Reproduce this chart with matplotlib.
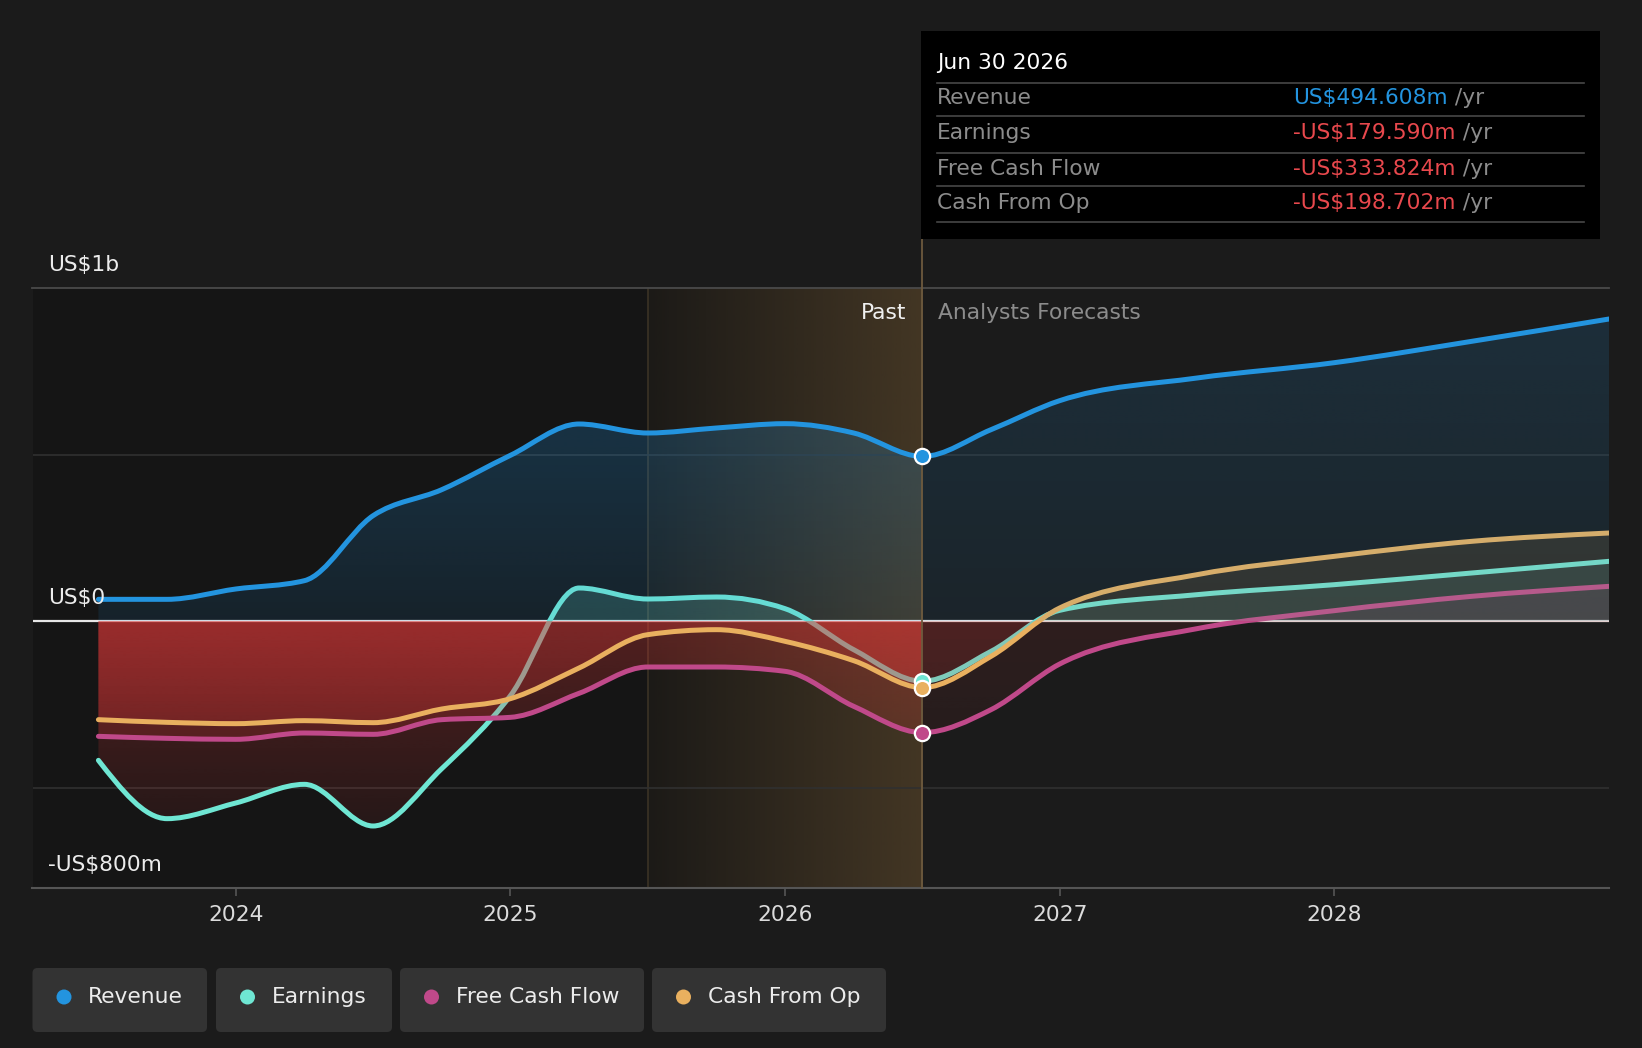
import numpy as np
import matplotlib
matplotlib.use("Agg")
import matplotlib.pyplot as plt
from matplotlib.path import Path
from matplotlib.patches import PathPatch, Rectangle, FancyBboxPatch, Circle
from matplotlib.lines import Line2D
from matplotlib.text import Annotation
from matplotlib.colors import to_rgb
from matplotlib.transforms import IdentityTransform

# --- data (US$ m, dates as decimal years) ---
dates = [2023.5, 2023.75, 2024.0, 2024.25, 2024.5, 2024.75, 2025.0, 2025.25,
         2025.5, 2025.75, 2026.0, 2026.25, 2026.5,
         2026.75, 2027.0, 2027.5, 2028.0, 2028.5, 2029.0]

revenue = [66, 66, 97, 122, 317, 395, 498, 592,
           565, 580, 593, 565, 494.608,
           575, 662, 730, 776, 840, 907]
earnings = [-417, -592, -545, -489, -614, -442, -223, 100,
            67, 73, 38, -85, -179.590,
            -90, 33, 80, 110, 145, 180]
free_cash_flow = [-345, -351, -354, -335, -339, -295, -288, -216,
                  -137, -137, -150, -255, -333.824,
                  -265, -128, -22, 32, 75, 105]
cash_from_op = [-295, -303, -307, -298, -304, -263, -232, -140,
                -40, -25, -60, -118, -198.702,
                -105, 40, 140, 195, 240, 265]

series_names = ["Revenue", "Earnings", "Free Cash Flow", "Cash From Op"]
series_values = [revenue, earnings, free_cash_flow, cash_from_op]
series_colors = ["#2394df", "#6fe6d3", "#c0498a", "#e9b05f"]

tooltip_date = "Jun 30 2026"
tooltip_values = [494.608, -179.590, -333.824, -198.702]

y_marks = [1000, 0, -800]
y_mark_labels = ["US$1b", "US$0", "-US$800m"]
grid_levels = [500, -500]
year_ticks = [2024, 2025, 2026, 2027, 2028]
year_labels = ["2024", "2025", "2026", "2027", "2028"]

past_end = 2026.5
recent_start = 2025.5

BG = "#1b1b1b"
PAST_BG = "#151515"
NEG_RED = "#dc3838"
FS = 15.7

W, H = 1642, 1048
fig = plt.figure(figsize=(W / 100, H / 100), dpi=100, facecolor=BG)
ax = fig.add_axes([32.5 / W, 1 - 888 / H, (1609 - 32.5) / W, 600 / H])
ax.set_facecolor(BG)
ax.set_xlim(2023.26, 2029.0)
ax.set_ylim(-800, 1000)


def smooth_path(x, y):
    # monotone cubic (like d3 curveMonotoneX) as bezier segments
    x = np.asarray(x, float)
    y = np.asarray(y, float)
    h = np.diff(x)
    d = np.diff(y) / h
    n = len(x)
    m = np.zeros(n)
    for i in range(1, n - 1):
        if d[i - 1] * d[i] > 0:
            p = (d[i - 1] * h[i] + d[i] * h[i - 1]) / (h[i - 1] + h[i])
            m[i] = 2 * np.sign(d[i]) * min(abs(d[i - 1]), abs(d[i]), 0.5 * abs(p))
    m[0] = (3 * d[0] - m[1]) / 2
    m[-1] = (3 * d[-1] - m[-2]) / 2
    verts = [(x[0], y[0])]
    codes = [Path.MOVETO]
    for i in range(n - 1):
        verts += [(x[i] + h[i] / 3, y[i] + m[i] * h[i] / 3),
                  (x[i + 1] - h[i] / 3, y[i + 1] - m[i + 1] * h[i] / 3),
                  (x[i + 1], y[i + 1])]
        codes += [Path.CURVE4] * 3
    return verts, codes


def grad(color, a_lo, a_hi, n=300, horizontal=False):
    arr = np.zeros((n, 4))
    arr[:, :3] = to_rgb(color)
    arr[:, 3] = np.linspace(a_lo, a_hi, n)
    return arr.reshape(1, n, 4) if horizontal else arr.reshape(n, 1, 4)


# background regions
ax.axvspan(2023.26, past_end, color=PAST_BG, lw=0, zorder=0)
ax.imshow(grad("#6e5532", 0.08, 0.52, horizontal=True), extent=[recent_start, past_end, -800, 1000],
          aspect="auto", origin="lower", interpolation="bilinear", zorder=0.5)
ax.axvline(recent_start, color="#3b3325", lw=1.2, zorder=0.6)

for g in grid_levels:
    ax.axhline(g, color="#303030", lw=1.2, zorder=1)
ax.axhline(0, color="#e6e6e6", lw=1.6, zorder=2)

# series: earnings, fcf, cfo, then revenue on top
draw_order = [1, 2, 3, 0]
for k, idx in enumerate(draw_order):
    vals = series_values[idx]
    col = series_colors[idx]
    z = 3 + k
    verts, codes = smooth_path(dates, vals)
    fverts = verts + [(dates[-1], 0), (dates[0], 0), (dates[0], vals[0])]
    fcodes = codes + [Path.LINETO, Path.LINETO, Path.CLOSEPOLY]
    clip = PathPatch(Path(fverts, fcodes), transform=ax.transData, facecolor="none", edgecolor="none")

    if idx == 0:
        pos_past, pos_fut = (0.11, 0.32), (0.08, 0.17)
    else:
        pos_past, pos_fut = (0.2, 0.2), (0.12, 0.12)
    segs = [(dates[0], past_end, (0.02, 0.31), pos_past),
            (past_end, dates[-1], (0.01, 0.10), pos_fut)]
    for xa, xb, neg_a, pos_a in segs:
        im = ax.imshow(grad(NEG_RED, *neg_a), extent=[xa, xb, -800, 0], aspect="auto",
                       origin="lower", interpolation="bilinear", zorder=z)
        im.set_clip_path(clip)
        im = ax.imshow(grad(col, *pos_a), extent=[xa, xb, 0, 1000], aspect="auto",
                       origin="lower", interpolation="bilinear", zorder=z)
        im.set_clip_path(clip)

    ax.add_patch(PathPatch(Path(verts, codes), facecolor="none", edgecolor=col, lw=3.6,
                           capstyle="round", joinstyle="round", zorder=z + 0.5))

ax.set_xlim(2023.26, 2029.0)
ax.set_ylim(-800, 1000)

# past / forecast divider
ax.axvline(past_end, ymin=0, ymax=(888 - 239) / 600, color="#6d5a3e", lw=1.3, clip_on=False, zorder=9)
for idx in [0, 1, 3, 2]:
    ax.plot([past_end], [series_values[idx][dates.index(past_end)]], "o", ms=11,
            mfc=series_colors[idx], mec="white", mew=1.6, zorder=10)

ax.annotate("Past", xy=(past_end, 1000), xytext=(-11.5, -18), textcoords="offset points",
            ha="right", va="center", color="#f0f0f0", fontsize=FS, zorder=11)
ax.annotate("Analysts Forecasts", xy=(past_end, 1000), xytext=(11.5, -18), textcoords="offset points",
            ha="left", va="center", color="#8c8c8c", fontsize=FS, zorder=11)

for v, lab in zip(y_marks, y_mark_labels):
    ax.annotate(lab, xy=(0, v), xycoords=("axes fraction", "data"), xytext=(11, 16.5),
                textcoords="offset points", ha="left", va="center", color="#ececec",
                fontsize=FS, zorder=12)

# axes styling
for s in ["left", "right"]:
    ax.spines[s].set_visible(False)
ax.spines["top"].set_color("#4a4a4a")
ax.spines["top"].set_linewidth(1.3)
ax.spines["bottom"].set_color("#555555")
ax.spines["bottom"].set_linewidth(1.5)
ax.spines["top"].set_zorder(1)
ax.set_yticks([])
ax.set_xticks(year_ticks)
ax.set_xticklabels(year_labels)
ax.tick_params(axis="x", colors="#555555", length=6, width=1.2, pad=6, labelsize=FS,
               labelcolor="#dcdcdc")

# tooltip
fig.add_artist(Rectangle((921 / W, 1 - 239 / H), (1600 - 921) / W, 208 / H,
                         transform=fig.transFigure, facecolor="black", edgecolor="none", zorder=5))
fig.text(937 / W, 1 - 63 / H, tooltip_date, color="white", fontsize=FS, va="center", zorder=6)
for yl in [83, 116, 153, 186, 222]:
    fig.add_artist(Line2D([937 / W, 1584 / W], [1 - yl / H] * 2, transform=fig.transFigure,
                          color="#474747", lw=1.2, zorder=6))
row_y = [98, 133, 169, 203]
for name, val, col, yr in zip(series_names, tooltip_values, series_colors, row_y):
    fig.text(937 / W, 1 - yr / H, name, color="#8c8c8c", fontsize=FS, va="center", zorder=6)
    txt = ("-" if val < 0 else "") + f"US${abs(val):.3f}m"
    vcol = col if val >= 0 else "#e8484d"
    t = fig.text(1293 / W, 1 - yr / H, txt, color=vcol, fontsize=FS, va="center", zorder=6)
    fig.add_artist(Annotation(" /yr", xy=(1, 0), xycoords=t, va="bottom", ha="left",
                              color="#8c8c8c", fontsize=FS, zorder=6))

# legend
boxes = [(32.5, 207), (216, 392), (400, 644), (652, 886)]
for (x0, x1), name, col in zip(boxes, series_names, series_colors):
    fig.add_artist(FancyBboxPatch((x0, H - 1032), x1 - x0, 64, boxstyle="round,pad=0,rounding_size=5",
                                  transform=IdentityTransform(), facecolor="#333333", edgecolor="none"))
    fig.add_artist(Circle((x0 + 31.5, H - 997), 7.5, transform=IdentityTransform(),
                          facecolor=col, edgecolor="none"))
    fig.text((x0 + 55.5) / W, 1 - 997 / H, name, color="#ececec", fontsize=FS, va="center")

fig.savefig("out.png", dpi=100, facecolor=BG)
